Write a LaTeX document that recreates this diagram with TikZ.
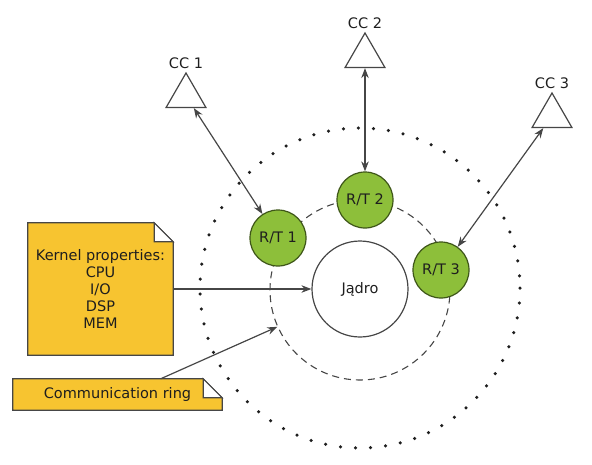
\documentclass[tikz,border=0pt]{standalone}
\usepackage{fontspec}
\setmainfont{DejaVu Sans}
\usetikzlibrary{shapes.geometric, arrows.meta, backgrounds}
\definecolor{linegray}{RGB}{70,70,70}
\definecolor{textgray}{RGB}{30,30,30}
\definecolor{rtgreen}{RGB}{141,191,58}
\definecolor{rtborder}{RGB}{62,86,24}
\definecolor{noteyellow}{RGB}{247,196,48}
\tikzset{
    every node/.style={font=\fontsize{14.5}{17}\selectfont, text=textgray}, % same text everywhere
    >={Stealth[length=10pt, width=7.5pt]}, % filled arrow heads
    link/.style={<->, line width=1.2pt, draw=linegray},
    feed/.style={->, line width=1.2pt, draw=linegray},
    rt/.style={circle, draw=rtborder, line width=1.2pt, fill=rtgreen, minimum size=56pt, inner sep=0pt},
    core/.style={circle, draw=linegray, line width=1.2pt, fill=white, minimum size=96pt},
    cc/.style={regular polygon, regular polygon sides=3, draw=linegray, line width=1.2pt, fill=white, minimum size=46pt, inner sep=0pt, label distance=4pt},
    notebox/.style={draw=linegray, line width=1.2pt, fill=noteyellow},
    notefold/.style={draw=linegray, line width=1.2pt, fill=white},
}
% dog-eared note drawn round a node: #1 node name, #2 fold size
\newcommand{\dogear}[2]{%
    \draw[notebox] (#1.south west) -- (#1.north west) -- ([xshift=-#2]#1.north east)
        -- ([yshift=-#2]#1.north east) -- (#1.south east) -- cycle;
    \draw[notefold] ([xshift=-#2]#1.north east) |- ([yshift=-#2]#1.north east) -- cycle;}

\begin{document}
\begin{tikzpicture}[x=1pt, y=-1pt]
    \useasboundingbox (0,0) rectangle (592,464);
    % outer dotted ring
    \draw[line width=3.5pt, line cap=round, dash pattern=on 0pt off 15.05pt, draw=textgray] (360,288) circle[radius=160];
    % communication ring
    \node[circle, draw=linegray, line width=1.1pt, dash pattern=on 7pt off 5pt, minimum size=180pt] (ring) at (360,290) {};
    \node[core] (jadro) at (360,289) {Jądro};
    \node[rt] (rt1) at (278,238) {R/T 1};
    \node[rt] (rt2) at (365,200) {R/T 2};
    \node[rt] (rt3) at (441,270) {R/T 3};
    \node[cc, label=above:CC 1] (cc1) at (186,96) {};
    \node[cc, label=above:CC 2] (cc2) at (365,56) {};
    \node[cc, label=above:CC 3] (cc3) at (552,116) {};
    \draw[link] (cc1) -- (rt1);
    \draw[link] (cc2) -- (rt2);
    \draw[link] (cc3) -- (rt3);
    % notes
    \node[minimum width=145pt, minimum height=132pt, align=center] (kernel) at (100.5,289)
        {Kernel properties:\\CPU\\I/O\\DSP\\MEM};
    \node[minimum width=209pt, minimum height=31pt] (comm) at (117.5,394.5) {Communication ring};
    \begin{scope}[on background layer]
        \dogear{kernel}{19pt}
        \dogear{comm}{19pt}
    \end{scope}
    \draw[feed] (kernel) -- (jadro);
    \draw[feed] (comm.20) -- (ring.204);
\end{tikzpicture}
\end{document}
